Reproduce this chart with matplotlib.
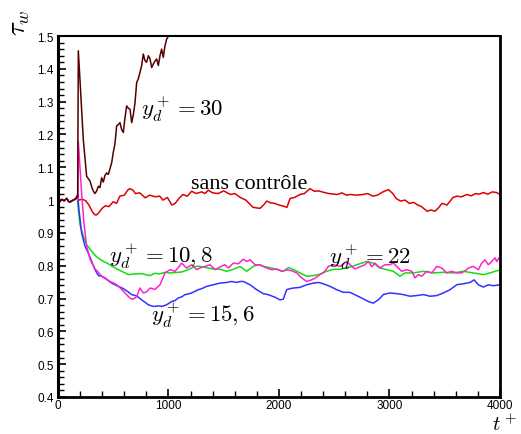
import matplotlib
matplotlib.use("Agg")
import matplotlib.pyplot as plt
from matplotlib.ticker import MultipleLocator

plt.rcParams["mathtext.fontset"] = "cm"

# shared start (before control is switched on)
t_init = [0, 15, 35, 55, 80, 95, 110, 125, 140, 160, 175]
tau_init = [0.992, 0.995, 1.002, 0.998, 1.005, 0.996, 0.994, 0.998, 1.0, 1.004, 1.012]

# sans controle
t_ref = [190, 220, 250, 280, 310, 335, 350, 370, 400, 430, 460, 500, 530, 560, 600, 630, 650, 680, 700, 740,
         790, 830, 880, 920, 950, 990, 1030, 1060, 1100, 1130, 1170, 1210, 1250, 1300, 1330, 1360, 1400, 1450,
         1500, 1560, 1600, 1650, 1700, 1765, 1800, 1830, 1860, 1890, 1920, 1960, 2000, 2036, 2072, 2100, 2140,
         2190, 2230, 2280, 2320, 2360, 2400, 2450, 2525, 2570, 2610, 2650, 2700, 2760, 2800, 2850, 2890, 2940,
         2990, 3030, 3060, 3100, 3140, 3180, 3220, 3250, 3290, 3340, 3375, 3410, 3440, 3475, 3520, 3575, 3610,
         3650, 3700, 3740, 3780, 3810, 3850, 3890, 3930, 3970, 4000]
tau_ref = [1.0, 1.003, 0.998, 0.985, 0.965, 0.955, 0.955, 0.962, 0.975, 0.983, 0.98, 0.995, 0.99, 1.012, 1.015,
           1.03, 1.035, 1.03, 1.02, 1.022, 1.007, 1.015, 1.01, 1.012, 1.0, 1.008, 0.985, 0.99, 1.007, 1.017,
           1.012, 1.027, 1.02, 1.025, 1.02, 1.03, 1.022, 1.02, 1.028, 1.017, 1.02, 1.008, 1.0, 0.978, 0.976,
           0.975, 0.985, 0.997, 0.992, 0.99, 0.985, 0.982, 0.978, 1.005, 1.008, 1.017, 1.02, 1.035, 1.027,
           1.028, 1.024, 1.02, 1.017, 1.022, 1.015, 1.017, 1.015, 1.017, 1.02, 1.012, 1.015, 1.025, 1.032,
           1.02, 1.005, 0.997, 1.0, 0.99, 0.993, 0.986, 0.98, 0.966, 0.97, 0.966, 0.975, 0.99, 0.985, 1.008,
           1.012, 1.01, 1.017, 1.013, 1.02, 1.018, 1.023, 1.018, 1.025, 1.023, 1.017]

# y_d+ = 30
t_30 = [178, 184, 200, 229, 259, 275, 290, 305, 320, 335, 350, 365, 380, 395, 410, 425, 440, 455, 470, 486,
        500, 515, 531, 546, 561, 576, 591, 606, 621, 636, 652, 667, 682, 697, 712, 727, 742, 757, 772, 787,
        802, 818, 833, 848, 863, 878, 893, 908, 923, 938, 953, 968, 983, 1000, 1015]
tau_30 = [1.01, 1.455, 1.36, 1.185, 1.073, 1.065, 1.058, 1.04, 1.027, 1.02, 1.028, 1.042, 1.038, 1.068, 1.055,
          1.075, 1.083, 1.078, 1.095, 1.114, 1.145, 1.17, 1.226, 1.23, 1.236, 1.215, 1.206, 1.25, 1.287, 1.28,
          1.277, 1.236, 1.26, 1.297, 1.358, 1.37, 1.389, 1.41, 1.445, 1.425, 1.42, 1.44, 1.43, 1.404, 1.415,
          1.424, 1.43, 1.41, 1.44, 1.46, 1.435, 1.47, 1.49, 1.5, 1.53]

# y_d+ = 22
t_22 = [180, 184, 214, 235, 259, 290, 335, 365, 395, 430, 470, 500, 531, 570, 606, 640, 667, 690, 712, 742,
        772, 800, 833, 878, 923, 968, 1014, 1059, 1090, 1119, 1164, 1210, 1255, 1285, 1330, 1376, 1421, 1466,
        1511, 1541, 1587, 1632, 1677, 1708, 1738, 1783, 1828, 1888, 1933, 1979, 2024, 2069, 2115, 2160, 2205,
        2250, 2296, 2326, 2371, 2416, 2446, 2491, 2552, 2612, 2642, 2688, 2733, 2778, 2808, 2839, 2869, 2914,
        2959, 3005, 3035, 3080, 3110, 3156, 3201, 3231, 3261, 3292, 3337, 3382, 3427, 3473, 3518, 3563, 3608,
        3653, 3699, 3713, 3758, 3804, 3834, 3864, 3894, 3925, 3955, 3970, 3991, 4000]
tau_22 = [1.0, 1.18, 1.02, 0.93, 0.86, 0.82, 0.79, 0.78, 0.768, 0.76, 0.752, 0.748, 0.742, 0.73, 0.717, 0.705,
          0.698, 0.7, 0.706, 0.732, 0.717, 0.72, 0.732, 0.728, 0.742, 0.778, 0.788, 0.783, 0.795, 0.808, 0.793,
          0.803, 0.788, 0.793, 0.798, 0.803, 0.788, 0.796, 0.803, 0.793, 0.808, 0.806, 0.82, 0.813, 0.818,
          0.803, 0.803, 0.793, 0.788, 0.79, 0.783, 0.787, 0.785, 0.778, 0.763, 0.752, 0.757, 0.762, 0.773,
          0.783, 0.798, 0.803, 0.798, 0.813, 0.803, 0.79, 0.797, 0.803, 0.813, 0.797, 0.808, 0.793, 0.803,
          0.803, 0.808, 0.793, 0.783, 0.788, 0.783, 0.763, 0.773, 0.768, 0.783, 0.778, 0.798, 0.793, 0.778,
          0.783, 0.778, 0.778, 0.788, 0.793, 0.798, 0.788, 0.808, 0.818, 0.803, 0.813, 0.824, 0.813, 0.824, 0.822]

# y_d+ = 10,8
t_108 = [178, 199, 229, 259, 305, 350, 395, 455, 516, 576, 636, 697, 757, 800, 833, 878, 920, 968, 1010, 1059,
         1119, 1179, 1240, 1285, 1345, 1406, 1466, 1526, 1587, 1647, 1708, 1768, 1813, 1858, 1919, 1979, 2039,
         2084, 2130, 2190, 2250, 2310, 2371, 2431, 2491, 2552, 2612, 2660, 2703, 2750, 2793, 2853, 2914, 2975,
         3035, 3095, 3140, 3215, 3306, 3396, 3487, 3577, 3668, 3758, 3849, 3910, 3955, 4000]
tau_108 = [0.99, 0.925, 0.89, 0.864, 0.844, 0.827, 0.816, 0.806, 0.793, 0.783, 0.773, 0.775, 0.776, 0.772, 0.77,
           0.777, 0.775, 0.78, 0.778, 0.779, 0.781, 0.788, 0.798, 0.798, 0.794, 0.79, 0.789, 0.783, 0.789, 0.798,
           0.783, 0.798, 0.803, 0.798, 0.794, 0.789, 0.783, 0.794, 0.789, 0.778, 0.768, 0.77, 0.774, 0.783,
           0.789, 0.789, 0.794, 0.797, 0.803, 0.808, 0.813, 0.808, 0.793, 0.788, 0.783, 0.768, 0.778, 0.778,
           0.783, 0.778, 0.78, 0.778, 0.783, 0.778, 0.773, 0.778, 0.783, 0.787]

# y_d+ = 15,6
t_156 = [178, 190, 214, 244, 274, 305, 335, 365, 395, 425, 455, 486, 516, 546, 576, 606, 636, 667, 712, 757,
         790, 818, 850, 878, 910, 938, 960, 983, 1029, 1060, 1089, 1120, 1149, 1180, 1210, 1240, 1270, 1300,
         1345, 1406, 1466, 1526, 1571, 1617, 1650, 1677, 1738, 1798, 1858, 1900, 1933, 1970, 2009, 2039, 2069,
         2100, 2130, 2190, 2250, 2310, 2356, 2401, 2462, 2522, 2582, 2642, 2703, 2763, 2808, 2853, 2899, 2944,
         3005, 3065, 3125, 3186, 3246, 3306, 3367, 3427, 3487, 3548, 3608, 3668, 3729, 3765, 3804, 3849, 3894,
         3940, 4000]
tau_156 = [1.017, 0.97, 0.9, 0.86, 0.839, 0.813, 0.788, 0.77, 0.768, 0.763, 0.755, 0.747, 0.742, 0.737, 0.733,
           0.727, 0.72, 0.712, 0.708, 0.696, 0.688, 0.681, 0.677, 0.676, 0.678, 0.676, 0.678, 0.681, 0.691,
           0.694, 0.702, 0.705, 0.712, 0.714, 0.717, 0.722, 0.727, 0.73, 0.737, 0.742, 0.747, 0.749, 0.752,
           0.749, 0.752, 0.752, 0.742, 0.727, 0.715, 0.712, 0.708, 0.703, 0.696, 0.698, 0.727, 0.73, 0.732,
           0.734, 0.742, 0.747, 0.749, 0.745, 0.737, 0.727, 0.719, 0.719, 0.709, 0.699, 0.691, 0.686, 0.696,
           0.712, 0.717, 0.715, 0.712, 0.707, 0.709, 0.712, 0.707, 0.709, 0.717, 0.727, 0.742, 0.745, 0.749,
           0.757, 0.742, 0.735, 0.742, 0.739, 0.742]

fig = plt.figure(figsize=(5.21, 4.35), dpi=100)
ax = fig.add_axes([0.1113, 0.0851, 0.8484, 0.8298])

lw = 1.1
ax.plot(t_init + t_ref, tau_init + tau_ref, color="#dd0000", lw=lw)
ax.plot(t_init + t_108, tau_init + tau_108, color="#11dd11", lw=lw)
ax.plot(t_init + t_156, tau_init + tau_156, color="#3333ff", lw=lw)
ax.plot(t_init + t_22, tau_init + tau_22, color="#ff22cc", lw=lw)
ax.plot(t_init + t_30, tau_init + tau_30, color="#550000", lw=lw)

ax.set_xlim(0, 4000)
ax.set_ylim(0.4, 1.5)
ax.xaxis.set_major_locator(MultipleLocator(1000))
ax.xaxis.set_minor_locator(MultipleLocator(200))
ax.yaxis.set_minor_locator(MultipleLocator(0.02))
ax.set_yticks([0.4, 0.5, 0.6, 0.7, 0.8, 0.9, 1.0, 1.1, 1.2, 1.3, 1.4, 1.5])
ax.set_yticklabels(["0.4", "0.5", "0.6", "0.7", "0.8", "0.9", "1", "1.1", "1.2", "1.3", "1.4", "1.5"])
ax.tick_params(which="both", direction="in", top=False, right=False,
               labelsize=8.5, labelfontfamily="Liberation Sans")
ax.tick_params(which="major", length=6, width=1.2, pad=3)
ax.tick_params(axis="x", which="major", pad=1.5)
ax.tick_params(which="minor", length=4, width=1.0)
ax.spines["left"].set_linewidth(2.2)
ax.spines["bottom"].set_linewidth(2.0)
ax.spines["top"].set_linewidth(1.5)
ax.spines["right"].set_linewidth(2.0)

fig.text(0.037, 0.948, r"$\tau_w$", fontsize=19, rotation=90, ha="center", va="center")
fig.text(0.968, 0.0, r"$t^+$", fontsize=15, ha="center", va="bottom")

ax.text(752, 1.28, r"$y_d^+ = 30$", fontsize=16.5, va="center")
ax.text(466, 0.832, r"$y_d^+ = 10,8$", fontsize=16.5, va="center")
ax.text(846, 0.651, r"$y_d^+ = 15,6$", fontsize=16.5, va="center")
ax.text(2457, 0.829, r"$y_d^+ = 22$", fontsize=16.5, va="center")
ax.text(1200, 1.037, "sans contrôle", fontsize=16, family="Liberation Serif", va="baseline")

fig.savefig("out.png", dpi=100)
